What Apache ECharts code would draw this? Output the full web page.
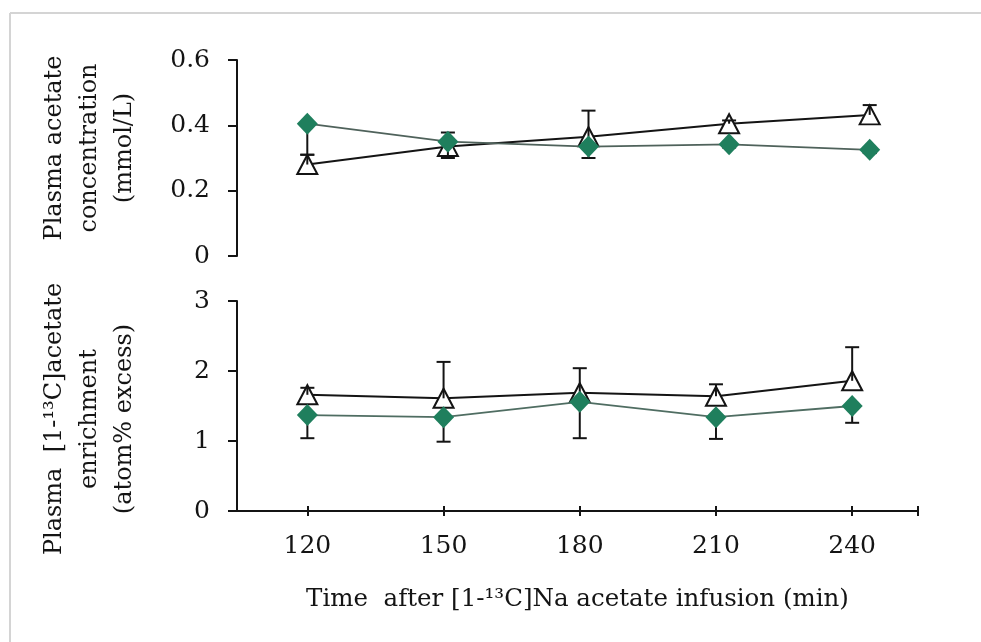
<!DOCTYPE html>
<html>
<head>
<meta charset="utf-8">
<script src="https://cdn.jsdelivr.net/npm/echarts@6/dist/echarts.min.js"></script>
<style>
  html, body { margin: 0; padding: 0; background: #ffffff; }
  #chart { width: 981px; height: 642px; }
</style>
</head>
<body>
<div id="chart"></div>
<script>
// Sampling times after the start of the [1-13C]Na acetate infusion (min)
const times = [120, 150, 180, 210, 240];
const timeTicks = [120, 150, 180, 210, 240];

// Plasma acetate concentration (mmol/L)
const concFilled = [0.405, 0.350, 0.335, 0.342, 0.325];
const concFilledSD = [0.095, 0.050, 0.035, 0.010, 0.010];
const concOpen = [0.280, 0.335, 0.365, 0.405, 0.432];
const concOpenSD = [0.030, 0.043, 0.080, 0.010, 0.030];

// Plasma [1-13C]acetate enrichment (atom% excess)
const enrFilled = [1.37, 1.34, 1.56, 1.34, 1.50];
const enrFilledSD = [0.33, 0.35, 0.52, 0.31, 0.24];
const enrOpen = [1.66, 1.61, 1.69, 1.64, 1.86];
const enrOpenSD = [0.10, 0.52, 0.35, 0.17, 0.48];

const FONT = '"DejaVu Serif", "Liberation Serif", serif';
const INK = '#141414';
const GREEN = '#1f7f5d';

const pairs = (xs, ys) => xs.map((x, i) => [x, ys[i]]);
// error bar rows: [x, y, sd, direction]
const bars = (xs, ys, sd, dir) => xs.map((x, i) => [x, ys[i], sd[i], dir]);

function renderErrorBar(params, api) {
  const x = api.value(0), y = api.value(1), e = api.value(2), d = api.value(3);
  const p0 = api.coord([x, y]);
  const p1 = api.coord([x, y + d * e]);
  const w = 7;
  return {
    type: 'group',
    children: [
      { type: 'line', shape: { x1: p0[0], y1: p0[1], x2: p1[0], y2: p1[1] },
        style: { stroke: INK, lineWidth: 2 } },
      { type: 'line', shape: { x1: p1[0] - w, y1: p1[1], x2: p1[0] + w, y2: p1[1] },
        style: { stroke: INK, lineWidth: 2 } }
    ]
  };
}

function yAxisDef(gridIndex, max, interval, fmt) {
  return {
    type: 'value', gridIndex, min: 0, max, interval,
    axisLine: { show: true, lineStyle: { color: INK, width: 2 } },
    axisTick: { show: true, length: 9, lineStyle: { color: INK, width: 2 } },
    axisLabel: { fontFamily: FONT, fontSize: 25, color: INK, margin: 27, formatter: fmt },
    splitLine: { show: false }
  };
}

const chart = echarts.init(document.getElementById('chart'), null, { renderer: 'canvas' });

chart.setOption({
  backgroundColor: '#ffffff',
  animation: false,
  grid: [
    { left: 237, top: 60, width: 703, height: 196 },
    { left: 237, top: 301, width: 681, height: 210 }
  ],
  xAxis: [
    { type: 'value', gridIndex: 0, min: 105, max: 255, show: false },
    {
      type: 'value', gridIndex: 1, min: 104.5, max: 254.5, position: 'bottom',
      axisLine: { show: true, lineStyle: { color: INK, width: 2 } },
      axisTick: { show: true, length: 5, lineStyle: { color: INK, width: 2 },
                  customValues: timeTicks.concat([254.5]) },
      axisLabel: { fontFamily: FONT, fontSize: 25, color: INK, margin: 23,
                   customValues: timeTicks },
      splitLine: { show: false },
      name: 'Time  after [1-\u00B9\u00B3C]Na acetate infusion (min)',
      nameLocation: 'middle', nameGap: 76,
      nameTextStyle: { fontFamily: FONT, fontSize: 24.5, color: INK }
    },
    {
      // inner half of the crossing tick marks
      type: 'value', gridIndex: 1, min: 104.5, max: 254.5, position: 'bottom', offset: 0,
      axisLine: { show: false },
      axisTick: { show: true, inside: true, length: 5, lineStyle: { color: INK, width: 2 },
                  customValues: timeTicks.concat([254.5]) },
      axisLabel: { show: false },
      splitLine: { show: false }
    }
  ],
  yAxis: [
    yAxisDef(0, 0.6, 0.2, v => (v === 0 ? '0' : v.toFixed(1))),
    yAxisDef(1, 3, 1, v => String(v))
  ],
  graphic: [
    { type: 'line', shape: { x1: 10, y1: 13, x2: 981, y2: 13 },
      style: { stroke: '#d4d4d4', lineWidth: 2 }, silent: true },
    { type: 'line', shape: { x1: 10, y1: 13, x2: 10, y2: 642 },
      style: { stroke: '#d4d4d4', lineWidth: 2 }, silent: true },
    { type: 'text', x: 90, y: 148, rotation: Math.PI / 2,
      style: { text: 'Plasma acetate\nconcentration\n(mmol/L)', fontFamily: FONT, fontSize: 24,
               fill: INK, align: 'center', verticalAlign: 'middle', lineHeight: 35 } },
    { type: 'text', x: 90, y: 419, rotation: Math.PI / 2,
      style: { text: 'Plasma  [1-\u00B9\u00B3C]acetate\nenrichment\n(atom% excess)', fontFamily: FONT, fontSize: 24,
               fill: INK, align: 'center', verticalAlign: 'middle', lineHeight: 35 } }
  ],
  series: [
    // upper panel: concentration
    { type: 'line', xAxisIndex: 0, yAxisIndex: 0, data: pairs(times, concOpen), z: 2,
      symbol: 'triangle', symbolSize: [20, 19], showAllSymbol: true,
      itemStyle: { color: '#ffffff', borderColor: INK, borderWidth: 2 },
      lineStyle: { color: INK, width: 2 } },
    { type: 'custom', xAxisIndex: 0, yAxisIndex: 0, renderItem: renderErrorBar, z: 3,
      encode: { x: 0, y: 1 }, data: bars(times, concOpen, concOpenSD, 1), clip: false },
    { type: 'custom', xAxisIndex: 0, yAxisIndex: 0, renderItem: renderErrorBar, z: 3,
      encode: { x: 0, y: 1 }, data: bars(times, concFilled, concFilledSD, -1), clip: false },
    { type: 'line', xAxisIndex: 0, yAxisIndex: 0, data: pairs(times, concFilled), z: 4,
      symbol: 'diamond', symbolSize: [21, 22], showAllSymbol: true,
      itemStyle: { color: GREEN, borderWidth: 0 },
      lineStyle: { color: '#4f625b', width: 1.8 } },

    // lower panel: enrichment
    { type: 'line', xAxisIndex: 1, yAxisIndex: 1, data: pairs(times, enrOpen), z: 2,
      symbol: 'triangle', symbolSize: [20, 19], showAllSymbol: true,
      itemStyle: { color: '#ffffff', borderColor: INK, borderWidth: 2 },
      lineStyle: { color: INK, width: 2 } },
    { type: 'custom', xAxisIndex: 1, yAxisIndex: 1, renderItem: renderErrorBar, z: 3,
      encode: { x: 0, y: 1 }, data: bars(times, enrOpen, enrOpenSD, 1), clip: false },
    { type: 'custom', xAxisIndex: 1, yAxisIndex: 1, renderItem: renderErrorBar, z: 3,
      encode: { x: 0, y: 1 }, data: bars(times, enrFilled, enrFilledSD, -1), clip: false },
    { type: 'line', xAxisIndex: 1, yAxisIndex: 1, data: pairs(times, enrFilled), z: 4,
      symbol: 'diamond', symbolSize: [21, 22], showAllSymbol: true,
      itemStyle: { color: GREEN, borderWidth: 0 },
      lineStyle: { color: '#4f6d62', width: 1.8 } }
  ]
});
</script>
</body>
</html>
